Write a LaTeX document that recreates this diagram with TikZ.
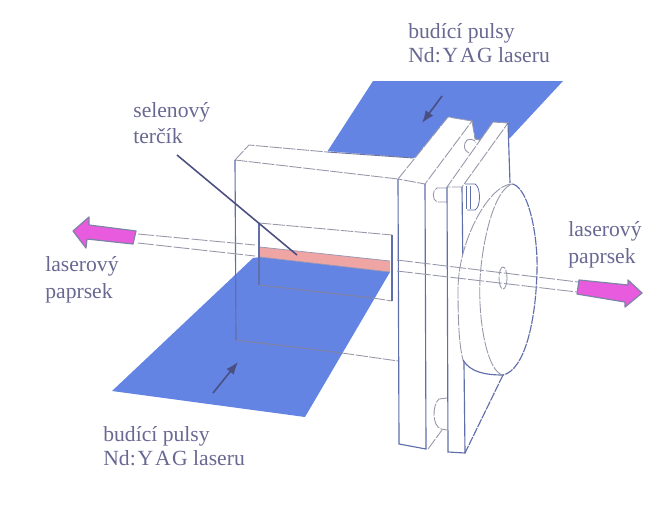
\documentclass[tikz,border=0pt]{standalone}
\usepackage{fontspec}
\setmainfont{Liberation Serif}
\usepackage{tikz}
\usetikzlibrary{arrows.meta,calc,positioning}
\definecolor{PulseBlue}{RGB}{100,132,228}
\definecolor{TargetPink}{RGB}{240,165,165}
\definecolor{BeamMagenta}{RGB}{232,90,222}
\definecolor{EdgeBlue}{RGB}{96,110,170}
\definecolor{EdgeGray}{RGB}{150,152,170}
\definecolor{InkSlate}{RGB}{74,78,128}
\definecolor{TextGray}{RGB}{104,104,146}
\newcommand{\yag}{Nd:\kern1pt Y\kern1.2pt A\kern0.8pt G laseru}
\tikzset{
  edgeline/.style={EdgeBlue,line width=0.65pt},
  faintline/.style={EdgeGray,line width=0.5pt,dash pattern=on 7pt off 0.8pt},
  beamline/.style={EdgeGray,line width=0.5pt,dash pattern=on 9pt off 1.2pt},
  pointer/.style={InkSlate,line width=0.9pt},
  beamarrow/.style={fill=BeamMagenta,draw=InkSlate!70,line width=0.7pt,line join=round},
  caption/.style={TextGray,inner sep=0pt,anchor=north west,align=left,font=\fontsize{12.3}{12.3}\selectfont}
}
\begin{document}
\begin{tikzpicture}[x=0.02cm,y=-0.02cm,>=Latex]
      \useasboundingbox (0,0) rectangle (668,514);
      % laser pulses
      \fill[PulseBlue] (373,81)--(563,81)--(510,138)--(413,158)--(327,152)--cycle;
      \fill[PulseBlue] (112,391)--(253,258)--(260,257)--(390,272)--(305,417)--cycle;
      \fill[TargetPink] (260,247)--(390,261)--(390,272)--(260,257)--cycle;
      % box
      \fill[white] (235,160)--(249,145)--(413,158)--(398,179)--cycle;
      \draw[faintline] (235,160)--(249,145)--(327,152);
      \draw[InkSlate!80,line width=0.5pt] (327,152)--(413,158);
      \draw[faintline] (235,160)--(398,179);
      \draw[edgeline] (235,160)--(236,340);
      \draw[InkSlate!70,line width=0.6pt] (236,340)--(342,353);
      \draw[faintline] (342,353)--(398,361);
      % window
      \draw[faintline] (259,223)--(392,235);
      \draw[edgeline] (259,223)--(259,285);
      \draw[InkSlate!70,line width=0.6pt] (259,285)--(373,298);
      \draw[faintline] (373,298)--(392,301);
      \draw[edgeline] (392,235)--(392,301);
      \draw[InkSlate!60,line width=0.4pt] (260,257)--(390,272) (260,247)--(390,261);
      % plates
      \fill[white] (398,179)--(448,117)--(472,121)--(475,139)--(480,140)--(493,122)--(508,123)--(510,183)--(510,380)--(465,453)--(448,452)--(426,449)--(399,444)--cycle;
      \draw[faintline] (398,179)--(448,117)--(472,121)--(425,184)--cycle;
      \draw[faintline] (472,121)--(475,139)--(480,140)--(493,122)--(508,123)--(462,187)--(447,187)--(493,122);
      \draw[edgeline] (508,123)--(510,183);
      \draw[edgeline] (398,179)--(399,444)--(426,449)--(425,184);
      \draw[edgeline] (447,187)--(448,452)--(465,453)--(462,187);
      % pegs
      \draw[faintline] (465,143) .. controls (466,137) and (476,139) .. (476,143);
      \draw[faintline] (465,143) .. controls (463,149) and (466,151) .. (469,153);
      \draw[faintline] (447,188)--(437,188) .. controls (432,190) and (432,200) .. (437,202)--(447,202);
      \draw[edgeline,line width=0.45pt] (465,184)--(475,184) .. controls (481,187) and (481,207) .. (475,210)--(467,210);
      \draw[edgeline,line width=0.45pt] (470,186)--(470,209) (466,186)--(466,209);
      \draw[faintline] (447,398)--(439,399) .. controls (432,405) and (432,426) .. (441,429)--(447,430);
      \draw[faintline] (428,449)--(442,430);
      % disc
      \fill[white] (513,184) .. controls (490,183) and (458,240) .. (458,290)
        .. controls (458,320) and (459,345) .. (463,360)
        .. controls (470,372) and (485,375) .. (503,375)
        .. controls (525,370) and (536,320) .. (537,270)
        .. controls (538,240) and (530,190) .. (513,184)--cycle;
      \draw[faintline] (513,184) .. controls (490,183) and (458,240) .. (458,290)
        .. controls (458,320) and (459,345) .. (463,360);
      \draw[edgeline] (463,360) .. controls (470,372) and (485,375) .. (503,375);
      \draw[edgeline,dash pattern=on 5pt off 0.6pt] (513,184) .. controls (530,190) and (538,240) .. (537,270)
        .. controls (536,320) and (525,370) .. (503,375);
      \draw[faintline] (503,375) .. controls (487,372) and (478,320) .. (480,280)
        .. controls (482,240) and (495,187) .. (513,184);
      \draw[edgeline,dash pattern=on 5pt off 0.6pt] (503,375)--(465,453);
      % rod on the disc
      \draw[faintline] (503,278) ellipse (4 and 11);
      % beam
      \coordinate (UL) at (138,234);
      \coordinate (LL) at (138,243);
      \coordinate (UM) at (255,245);
      \coordinate (LM) at (255,256);
      \coordinate (UR) at (578,282);
      \coordinate (LR) at (577,292);
      \draw[beamline] (UL)--(UM);
      \draw[beamline] (LL)--(LM);
      \draw[beamline] (397,260)--(UR);
      \draw[beamline] (397,271)--(LR);
      \draw[beamarrow] (73,231)--(89,217)--(89,225)--(136,231)--(133,244)--(87,239)--(86,248)--cycle;
      \draw[beamarrow] (642,293)--(628,280)--(628,285)--(579,280)--(577,294)--(625,302)--(625,307)--cycle;
      % labels
      \node[caption] (pulsTop) at (408,23) {budící pulsy\\[1.6pt]\yag};
      \node[caption] (pulsBottom) at (103,426) {budící pulsy\\[1.6pt]\yag};
      \node[caption] (target) at (133,102) {selenový\\[2.6pt]terčík};
      \node[caption] (beamLeft) at (45,256) {laserový\\[3.2pt]paprsek};
      \node[caption] (beamRight) at (568,221) {laserový\\[3.2pt]paprsek};
      % pointers
      \coordinate (TargetEnd) at (297,255);
      \draw[pointer] (177,155)--(TargetEnd);
      \coordinate (TopFrom) at (442,96);
      \coordinate (TopTo) at (422,123);
      \draw[->,pointer] (TopFrom)--(TopTo);
      \coordinate (BottomFrom) at (213,393);
      \coordinate (BottomTo) at (238,362);
      \draw[->,pointer] (BottomFrom)--(BottomTo);
    \end{tikzpicture}
\end{document}
